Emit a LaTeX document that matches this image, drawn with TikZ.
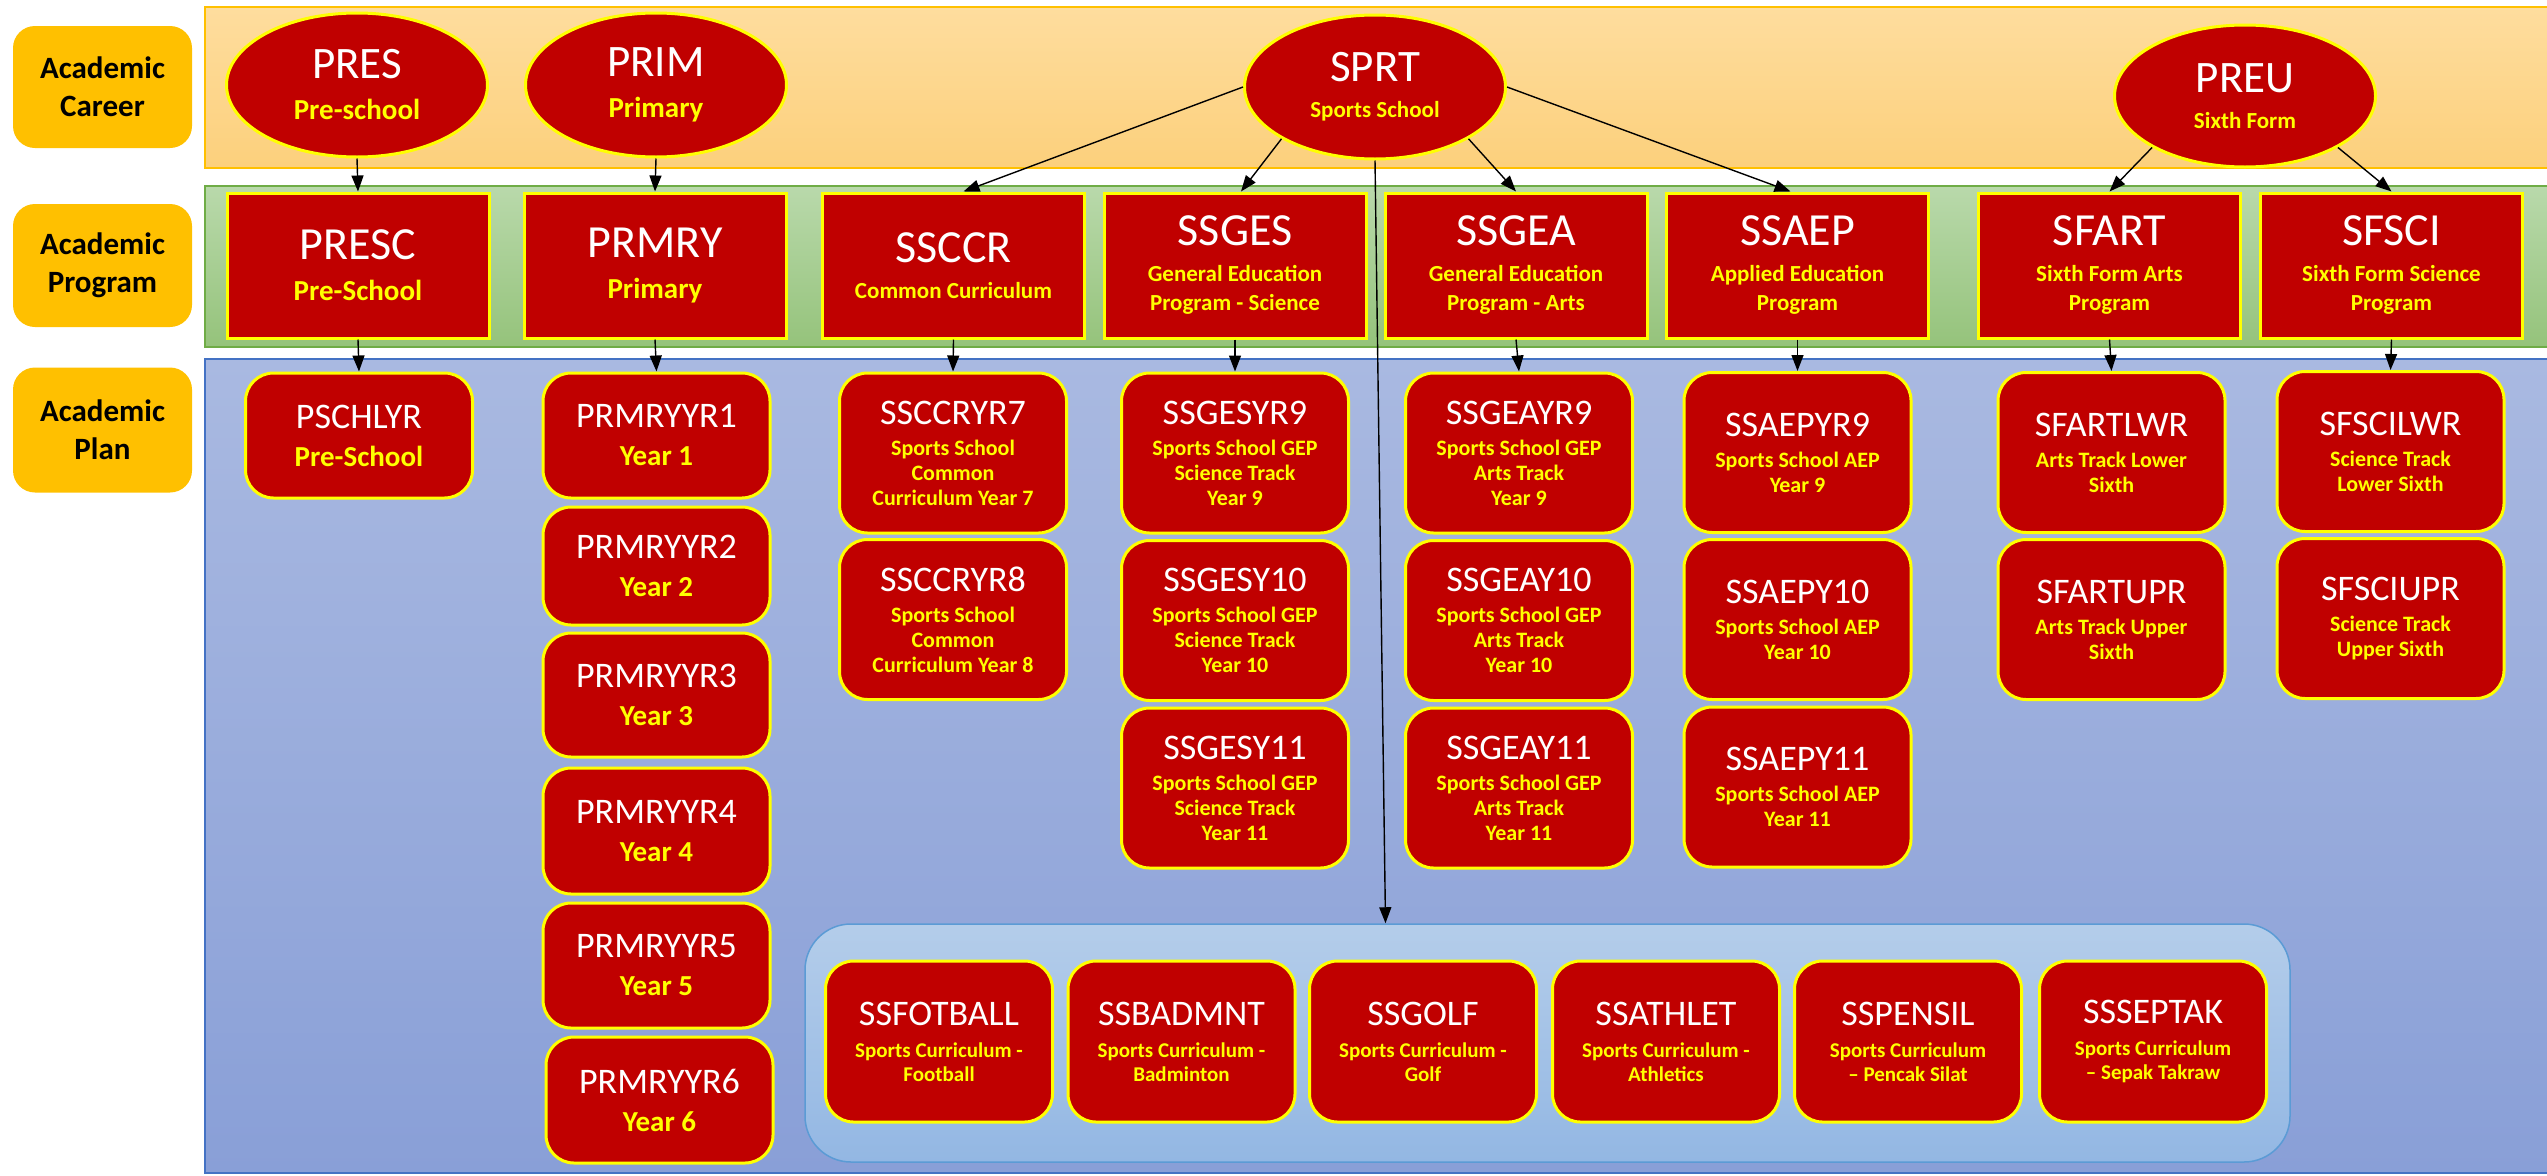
\documentclass[tikz,border=0pt]{standalone}
\usepackage{fontspec}
\setmainfont{Carlito}
\usetikzlibrary{shapes.geometric,arrows.meta}
\definecolor{lblorange}{HTML}{FFC000}
\definecolor{dred}{HTML}{C00000}
\definecolor{yel}{HTML}{FFFF00}
\definecolor{carTop}{HTML}{FEDD9E}
\definecolor{carBot}{HTML}{FCD07C}
\definecolor{carBd}{HTML}{FFC000}
\definecolor{prgTop}{HTML}{B9D9AB}
\definecolor{prgBot}{HTML}{95C37B}
\definecolor{prgBd}{HTML}{6FAC46}
\definecolor{plnTop}{HTML}{A9B9E1}
\definecolor{plnBot}{HTML}{899FD7}
\definecolor{plnBd}{HTML}{4472C4}
\definecolor{grpTop}{HTML}{B4CDEA}
\definecolor{grpBot}{HTML}{93B7E3}
\definecolor{grpBd}{HTML}{5B9BD5}
\newcommand\ttA[1]{{\fontsize{45}{45}\selectfont #1}}
\newcommand\ttB[1]{{\fontsize{46}{46}\selectfont #1}}
\newcommand\ttC[1]{{\fontsize{36}{36}\selectfont #1}}
\newcommand\ssL[1]{{\color{yel}\bfseries\fontsize{29}{29}\selectfont #1}}
\newcommand\ssM[1]{{\color{yel}\bfseries\fontsize{23}{23}\selectfont #1}}
\newcommand\ssP[1]{{\color{yel}\bfseries\fontsize{22}{22}\selectfont #1}}
\newcommand\ssS[1]{{\color{yel}\bfseries\fontsize{21}{21}\selectfont #1}}
\begin{document}
\begin{tikzpicture}[x=1pt,y=-1pt,
  band/.style={rectangle, line width=1.5pt, inner sep=0pt, outer sep=0pt},
  lbl/.style={rectangle, fill=lblorange, rounded corners=22pt, inner sep=0pt, minimum width=179pt, align=center, font=\fontsize{31}{38}\selectfont\bfseries},
  ell/.style={ellipse, fill=dred, draw=yel, line width=3pt, inner sep=0pt, minimum width=261pt, minimum height=144pt, align=center, text=white},
  prog/.style={rectangle, fill=dred, draw=yel, line width=3pt, inner sep=0pt, minimum width=262pt, minimum height=145pt, align=center, text=white},
  plan/.style={rectangle, rounded corners=28pt, fill=dred, draw=yel, line width=3pt, inner sep=0pt, minimum width=227pt, align=center, text=white},
  planA/.style={plan, font=\fontsize{20}{38}\selectfont},
  planB/.style={plan, minimum height=160pt, font=\fontsize{20}{25}\selectfont},
  sport/.style={plan, minimum height=161pt, font=\fontsize{20}{24}\selectfont},
  arr/.style={-{Triangle[length=16pt,width=12pt]}, line width=1.4pt, black}
]
\useasboundingbox (0,0) rectangle (2547,1175);
% bands
\node[band, draw=carBd, top color=carTop, bottom color=carBot, minimum width=2350pt, minimum height=161pt] (cband) at (1380,87.5) {};
\node[band, draw=prgBd, top color=prgTop, bottom color=prgBot, minimum width=2350pt, minimum height=161pt] (pband) at (1380,266.5) {};
\node[band, draw=plnBd, top color=plnTop, bottom color=plnBot, minimum width=2350pt, minimum height=814pt] (lband) at (1380,766) {};
% labels
\node[lbl, minimum height=122pt] (lcar) at (102.5,87) {Academic\\Career};
\node[lbl, minimum height=123pt] (lprg) at (102.5,265.5) {Academic\\Program};
\node[lbl, minimum height=125pt] (lpln) at (102.5,430) {Academic\\Plan};
% careers
\node[ell, font=\fontsize{20}{41}\selectfont] (pres) at (357,85) {\ttA{PRES}\\\ssL{Pre-school}};
\node[ell, font=\fontsize{20}{41}\selectfont] (prim) at (656,85) {\ttA{PRIM}\\\ssL{Primary}};
\node[ell, font=\fontsize{20}{36}\selectfont] (sprt) at (1375,87) {\ttA{SPRT}\\\ssM{Sports School}};
\node[ell, font=\fontsize{20}{36}\selectfont, minimum height=142pt] (preu) at (2245,96) {\ttA{PREU}\\\ssM{Sixth Form}};
% programs
\node[prog, font=\fontsize{20}{41}\selectfont] (presc) at (358,265.5) {\ttB{PRESC}\\\ssL{Pre-School}};
\node[prog, font=\fontsize{20}{41}\selectfont] (prmry) at (655,265.5) {\ttB{PRMRY}\\\ssL{Primary}};
\node[prog, font=\fontsize{20}{29}\selectfont] (ssccr) at (953.5,265.5) {\ttB{SSCCR}\\[7pt]\ssM{Common Curriculum}};
\node[prog, font=\fontsize{20}{29}\selectfont] (ssges) at (1235,265.5) {\ttB{SSGES}\\[7pt]\ssM{General Education}\\\ssM{Program - Science}};
\node[prog, font=\fontsize{20}{29}\selectfont] (ssgea) at (1516,265.5) {\ttB{SSGEA}\\[7pt]\ssM{General Education}\\\ssM{Program - Arts}};
\node[prog, font=\fontsize{20}{29}\selectfont] (ssaep) at (1797.5,265.5) {\ttB{SSAEP}\\[7pt]\ssM{Applied Education}\\\ssM{Program}};
\node[prog, font=\fontsize{20}{29}\selectfont] (sfart) at (2109.5,265.5) {\ttB{SFART}\\[7pt]\ssM{Sixth Form Arts}\\\ssM{Program}};
\node[prog, font=\fontsize{20}{29}\selectfont] (sfsci) at (2391.5,265.5) {\ttB{SFSCI}\\[7pt]\ssM{Sixth Form Science}\\\ssM{Program}};
% plans: pre-school and primary
\node[planA, minimum height=125pt] (pschlyr) at (359,435.5) {\ttC{PSCHLYR}\\\ssL{Pre-School}};
\node[planA, minimum height=125pt] (yr1) at (656.5,435.5) {\ttC{PRMRYYR1}\\\ssL{Year 1}};
\node[planA, minimum height=118pt] (yr2) at (656.5,566) {\ttC{PRMRYYR2}\\\ssL{Year 2}};
\node[planA, minimum height=124pt] (yr3) at (656.5,695) {\ttC{PRMRYYR3}\\\ssL{Year 3}};
\node[planA, minimum height=126pt] (yr4) at (656.5,831) {\ttC{PRMRYYR4}\\\ssL{Year 4}};
\node[planA, minimum height=125pt] (yr5) at (656.5,965.5) {\ttC{PRMRYYR5}\\\ssL{Year 5}};
\node[planA, minimum height=126pt] (yr6) at (659.5,1100) {\ttC{PRMRYYR6}\\\ssL{Year 6}};
% plans: common curriculum
\node[planB] (ccr7) at (953,453) {\ttC{SSCCRYR7}\\[6pt]\ssP{Sports School}\\\ssP{Common}\\\ssP{Curriculum Year 7}};
\node[planB] (ccr8) at (953,619.5) {\ttC{SSCCRYR8}\\[6pt]\ssP{Sports School}\\\ssP{Common}\\\ssP{Curriculum Year 8}};
% plans: GEP science
\node[planB] (ges9) at (1235,453) {\ttC{SSGESYR9}\\[6pt]\ssP{Sports School GEP}\\\ssP{Science Track}\\\ssP{Year 9}};
\node[planB] (ges10) at (1235,620.5) {\ttC{SSGESY10}\\[6pt]\ssP{Sports School GEP}\\\ssP{Science Track}\\\ssP{Year 10}};
\node[planB] (ges11) at (1235,788) {\ttC{SSGESY11}\\[6pt]\ssP{Sports School GEP}\\\ssP{Science Track}\\\ssP{Year 11}};
% plans: GEP arts
\node[planB] (gea9) at (1519,453) {\ttC{SSGEAYR9}\\[6pt]\ssP{Sports School GEP}\\\ssP{Arts Track}\\\ssP{Year 9}};
\node[planB] (gea10) at (1519,620.5) {\ttC{SSGEAY10}\\[6pt]\ssP{Sports School GEP}\\\ssP{Arts Track}\\\ssP{Year 10}};
\node[planB] (gea11) at (1519,788) {\ttC{SSGEAY11}\\[6pt]\ssP{Sports School GEP}\\\ssP{Arts Track}\\\ssP{Year 11}};
% plans: AEP
\node[planB] (aep9) at (1797.5,452.5) {\ttC{SSAEPYR9}\\[6pt]\ssP{Sports School AEP}\\\ssP{Year 9}};
\node[planB] (aep10) at (1797.5,619.5) {\ttC{SSAEPY10}\\[6pt]\ssP{Sports School AEP}\\\ssP{Year 10}};
\node[planB] (aep11) at (1797.5,787) {\ttC{SSAEPY11}\\[6pt]\ssP{Sports School AEP}\\\ssP{Year 11}};
% plans: sixth form
\node[planB] (artl) at (2111.5,452.5) {\ttC{SFARTLWR}\\[6pt]\ssP{Arts Track Lower}\\\ssP{Sixth}};
\node[planB] (artu) at (2111.5,619.5) {\ttC{SFARTUPR}\\[6pt]\ssP{Arts Track Upper}\\\ssP{Sixth}};
\node[planB] (scil) at (2390.5,451.5) {\ttC{SFSCILWR}\\[6pt]\ssP{Science Track}\\\ssP{Lower Sixth}};
\node[planB] (sciu) at (2390.5,618.5) {\ttC{SFSCIUPR}\\[6pt]\ssP{Science Track}\\\ssP{Upper Sixth}};
% sports group
\node[rectangle, rounded corners=46pt, draw=grpBd, line width=1.5pt, top color=grpTop, bottom color=grpBot, minimum width=1485pt, minimum height=238pt, inner sep=0pt] (grp) at (1547.5,1043) {};
\node[sport] (fot) at (939,1041.5) {\ttC{SSFOTBALL}\\[8pt]\ssS{Sports Curriculum -}\\\ssS{Football}};
\node[sport] (bad) at (1181.5,1041.5) {\ttC{SSBADMNT}\\[8pt]\ssS{Sports Curriculum -}\\\ssS{Badminton}};
\node[sport] (golf) at (1423,1041.5) {\ttC{SSGOLF}\\[8pt]\ssS{Sports Curriculum -}\\\ssS{Golf}};
\node[sport] (ath) at (1666,1041.5) {\ttC{SSATHLET}\\[8pt]\ssS{Sports Curriculum -}\\\ssS{Athletics}};
\node[sport] (pen) at (1908,1041.5) {\ttC{SSPENSIL}\\[8pt]\ssS{Sports Curriculum}\\\ssS{– Pencak Silat}};
\node[sport] (sep) at (2153,1041.5) {\ttC{SSSEPTAK}\\[8pt]\ssS{Sports Curriculum}\\\ssS{– Sepak Takraw}};
% arrows career -> program
\draw[arr] (pres.south) -- (presc.north);
\draw[arr] (prim.south) -- (prmry.north);
\draw[arr] (sprt.west) -- ([xshift=10pt]ssccr.north);
\draw[arr] (sprt.209) -- ([xshift=6pt]ssges.north);
\draw[arr] (sprt.331) -- (ssgea.north);
\draw[arr] (sprt.east) -- ([xshift=-7pt]ssaep.north);
\draw[arr] (preu.209) -- (sfart.north);
\draw[arr] (preu.331) -- (sfsci.north);
\draw[arr] (sprt.south) -- ([xshift=-162pt]grp.north);
% arrows program -> plan
\draw[arr] (presc.south) -- (pschlyr.north);
\draw[arr] (prmry.south) -- (yr1.north);
\draw[arr] (ssccr.south) -- (ccr7.north);
\draw[arr] (ssges.south) -- (ges9.north);
\draw[arr] (ssgea.south) -- (gea9.north);
\draw[arr] (ssaep.south) -- (aep9.north);
\draw[arr] (sfart.south) -- (artl.north);
\draw[arr] (sfsci.south) -- (scil.north);
\end{tikzpicture}
\end{document}
